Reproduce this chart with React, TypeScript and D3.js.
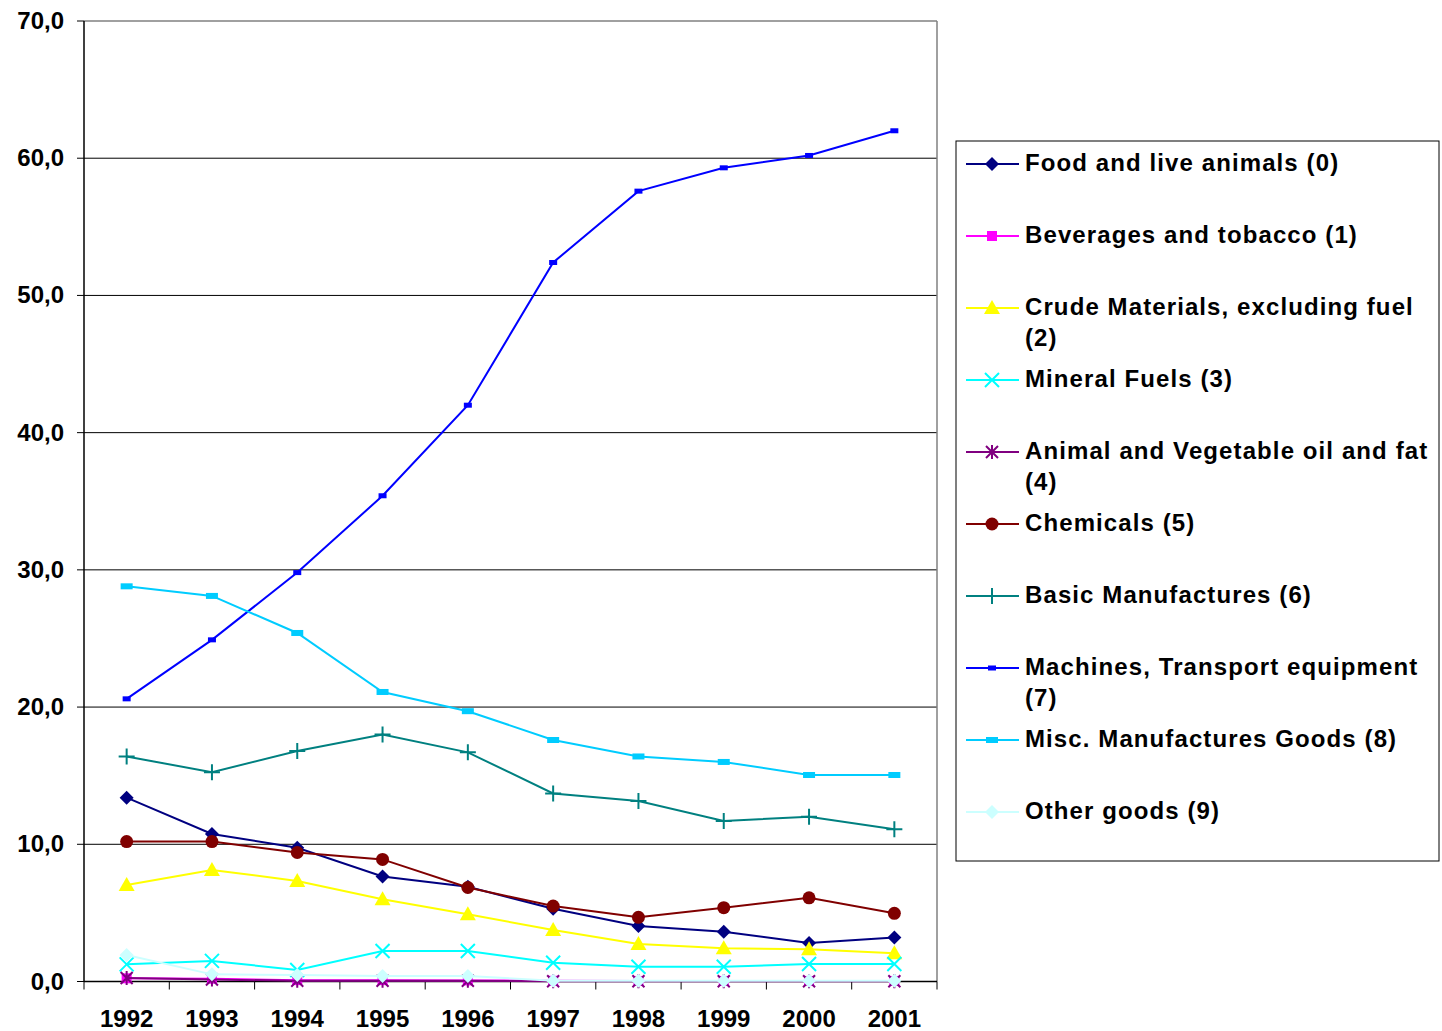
import * as d3 from 'd3';

const years = ['1992', '1993', '1994', '1995', '1996', '1997', '1998', '1999', '2000', '2001'];
const yTicks = [0, 10, 20, 30, 40, 50, 60, 70];

const food = [13.4, 10.75, 9.75, 7.65, 6.9, 5.3, 4.05, 3.63, 2.8, 3.2];
const beverages = [0.23, 0.2, 0.1, 0.1, 0.08, 0.05, 0.04, 0.04, 0.04, 0.04];
const crude = [7.03, 8.13, 7.33, 6.0, 4.9, 3.75, 2.73, 2.42, 2.35, 2.05];
const mineral = [1.25, 1.5, 0.84, 2.22, 2.22, 1.37, 1.08, 1.08, 1.28, 1.28];
const animalOil = [0.25, 0.15, 0.05, 0.05, 0.05, 0.02, 0.02, 0.02, 0.02, 0.02];
const chemicals = [10.2, 10.2, 9.4, 8.9, 6.85, 5.5, 4.68, 5.38, 6.1, 4.97];
const basic = [16.4, 15.25, 16.8, 18.0, 16.7, 13.7, 13.15, 11.7, 12.0, 11.1];
const machines = [20.6, 24.9, 29.8, 35.4, 42.0, 52.4, 57.6, 59.3, 60.2, 62.0];
const misc = [28.8, 28.1, 25.4, 21.1, 19.7, 17.6, 16.4, 16.0, 15.05, 15.05];
const other = [1.93, 0.52, 0.47, 0.4, 0.4, 0.06, 0.05, 0.05, 0.05, 0.05];

type Marker = 'diamond' | 'square' | 'triangle' | 'x' | 'asterisk' | 'circle' | 'plus' | 'dash' | 'dashWide';

const series: { name: string[]; values: number[]; color: string; marker: Marker }[] = [
  { name: ['Food and live animals (0)'], values: food, color: '#000080', marker: 'diamond' },
  { name: ['Beverages and tobacco (1)'], values: beverages, color: '#FF00FF', marker: 'square' },
  { name: ['Crude Materials, excluding fuel', '(2)'], values: crude, color: '#FFFF00', marker: 'triangle' },
  { name: ['Mineral Fuels (3)'], values: mineral, color: '#00FFFF', marker: 'x' },
  { name: ['Animal and Vegetable oil and fat', '(4)'], values: animalOil, color: '#800080', marker: 'asterisk' },
  { name: ['Chemicals (5)'], values: chemicals, color: '#800000', marker: 'circle' },
  { name: ['Basic Manufactures (6)'], values: basic, color: '#008080', marker: 'plus' },
  { name: ['Machines, Transport equipment', '(7)'], values: machines, color: '#0000FF', marker: 'dash' },
  { name: ['Misc. Manufactures Goods (8)'], values: misc, color: '#00CCFF', marker: 'dashWide' },
  { name: ['Other goods (9)'], values: other, color: '#CCFFFF', marker: 'diamond' },
];

function MarkerShape({ type, x, y, color }: { type: Marker; x: number; y: number; color: string }) {
  switch (type) {
    case 'diamond':
      return <path d={`M${x},${y - 7}L${x + 7},${y}L${x},${y + 7}L${x - 7},${y}Z`} fill={color} />;
    case 'square':
      return <rect x={x - 5} y={y - 5} width={10} height={10} fill={color} />;
    case 'triangle':
      return <path d={`M${x},${y - 8}L${x + 8},${y + 6}L${x - 8},${y + 6}Z`} fill={color} />;
    case 'x':
      return (
        <path d={`M${x - 7},${y - 7}L${x + 7},${y + 7}M${x + 7},${y - 7}L${x - 7},${y + 7}`} stroke={color} strokeWidth={2} />
      );
    case 'asterisk':
      return (
        <path
          d={`M${x - 6},${y - 6}L${x + 6},${y + 6}M${x + 6},${y - 6}L${x - 6},${y + 6}M${x},${y - 7}L${x},${y + 7}`}
          stroke={color}
          strokeWidth={2}
        />
      );
    case 'circle':
      return <circle cx={x} cy={y} r={6.5} fill={color} />;
    case 'plus':
      return <path d={`M${x - 8},${y}L${x + 8},${y}M${x},${y - 8}L${x},${y + 8}`} stroke={color} strokeWidth={2} />;
    case 'dash':
      return <rect x={x - 4} y={y - 2.5} width={8} height={5} fill={color} />;
    case 'dashWide':
      return <rect x={x - 6} y={y - 3} width={12} height={6} fill={color} />;
  }
}

export default function App() {
  const left = 84;
  const right = 937;
  const top = 21;
  const bottom = 981.5;

  const x = d3.scaleBand().domain(years).range([left, right]);
  const cx = (yr: string) => (x(yr) ?? 0) + x.bandwidth() / 2;
  const y = d3.scaleLinear().domain([0, 70]).range([bottom, top]);

  const line = d3
    .line<number>()
    .x((_, i) => cx(years[i]))
    .y(d => y(d));

  const font = '"Liberation Sans", Arial, sans-serif';
  const legendX = 956;
  const legendY = 141;
  const rowStep = 72;

  return (
    <div style={{ position: 'absolute', left: 0, top: 0 }}>
      <svg width={1442} height={1031} style={{ display: 'block', background: '#fff' }}>
        {/* gridlines */}
        {yTicks.filter(t => t > 0 && t < 70).map(t => (
          <line key={t} x1={left} x2={right} y1={y(t)} y2={y(t)} stroke="#000" strokeWidth={1} />
        ))}
        {/* plot border */}
        <line x1={left} x2={right} y1={y(70)} y2={y(70)} stroke="#808080" strokeWidth={1.5} />
        <line x1={right} x2={right} y1={top} y2={bottom} stroke="#808080" strokeWidth={1.5} />

        {/* y axis */}
        <line x1={left} x2={left} y1={top} y2={bottom} stroke="#000" strokeWidth={1.5} />
        {yTicks.map(t => (
          <g key={t}>
            <line x1={left - 7} x2={left} y1={y(t)} y2={y(t)} stroke="#000" strokeWidth={1} />
            <text
              x={64}
              y={y(t) + 8}
              textAnchor="end"
              fontFamily={font}
              fontWeight="bold"
              fontSize={24}
            >
              {d3.format('.1f')(t).replace('.', ',')}
            </text>
          </g>
        ))}

        {/* x axis */}
        <line x1={left} x2={right} y1={bottom} y2={bottom} stroke="#000" strokeWidth={1.5} />
        {[...years.map(yr => x(yr) ?? 0), right].map((bx, i) => (
          <line key={i} x1={bx} x2={bx} y1={bottom} y2={bottom + 8} stroke="#000" strokeWidth={1} />
        ))}
        {years.map(yr => (
          <text
            key={yr}
            x={cx(yr)}
            y={1027}
            textAnchor="middle"
            fontFamily={font}
            fontWeight="bold"
            fontSize={24}
          >
            {yr}
          </text>
        ))}

        {/* series */}
        {series.map(s => (
          <g key={s.name[0]}>
            <path d={line(s.values) ?? ''} fill="none" stroke={s.color} strokeWidth={2} />
            {s.values.map((v, i) => (
              <MarkerShape key={i} type={s.marker} x={cx(years[i])} y={y(v)} color={s.color} />
            ))}
          </g>
        ))}

        {/* legend */}
        <rect x={legendX} y={legendY} width={483} height={720} fill="#fff" stroke="#000" strokeWidth={1} />
        {series.map((s, i) => {
          const ry = 164 + i * rowStep;
          return (
            <g key={s.name[0]}>
              <line x1={966} x2={1019} y1={ry} y2={ry} stroke={s.color} strokeWidth={2} />
              <MarkerShape type={s.marker} x={992} y={ry} color={s.color} />
              {s.name.map((ln, j) => (
                <text
                  key={j}
                  x={1025}
                  y={ry + 7 + j * 31}
                  fontFamily={font}
                  fontWeight="bold"
                  fontSize={24}
                  letterSpacing={1.1}
                >
                  {ln}
                </text>
              ))}
            </g>
          );
        })}
      </svg>
    </div>
  );
}
